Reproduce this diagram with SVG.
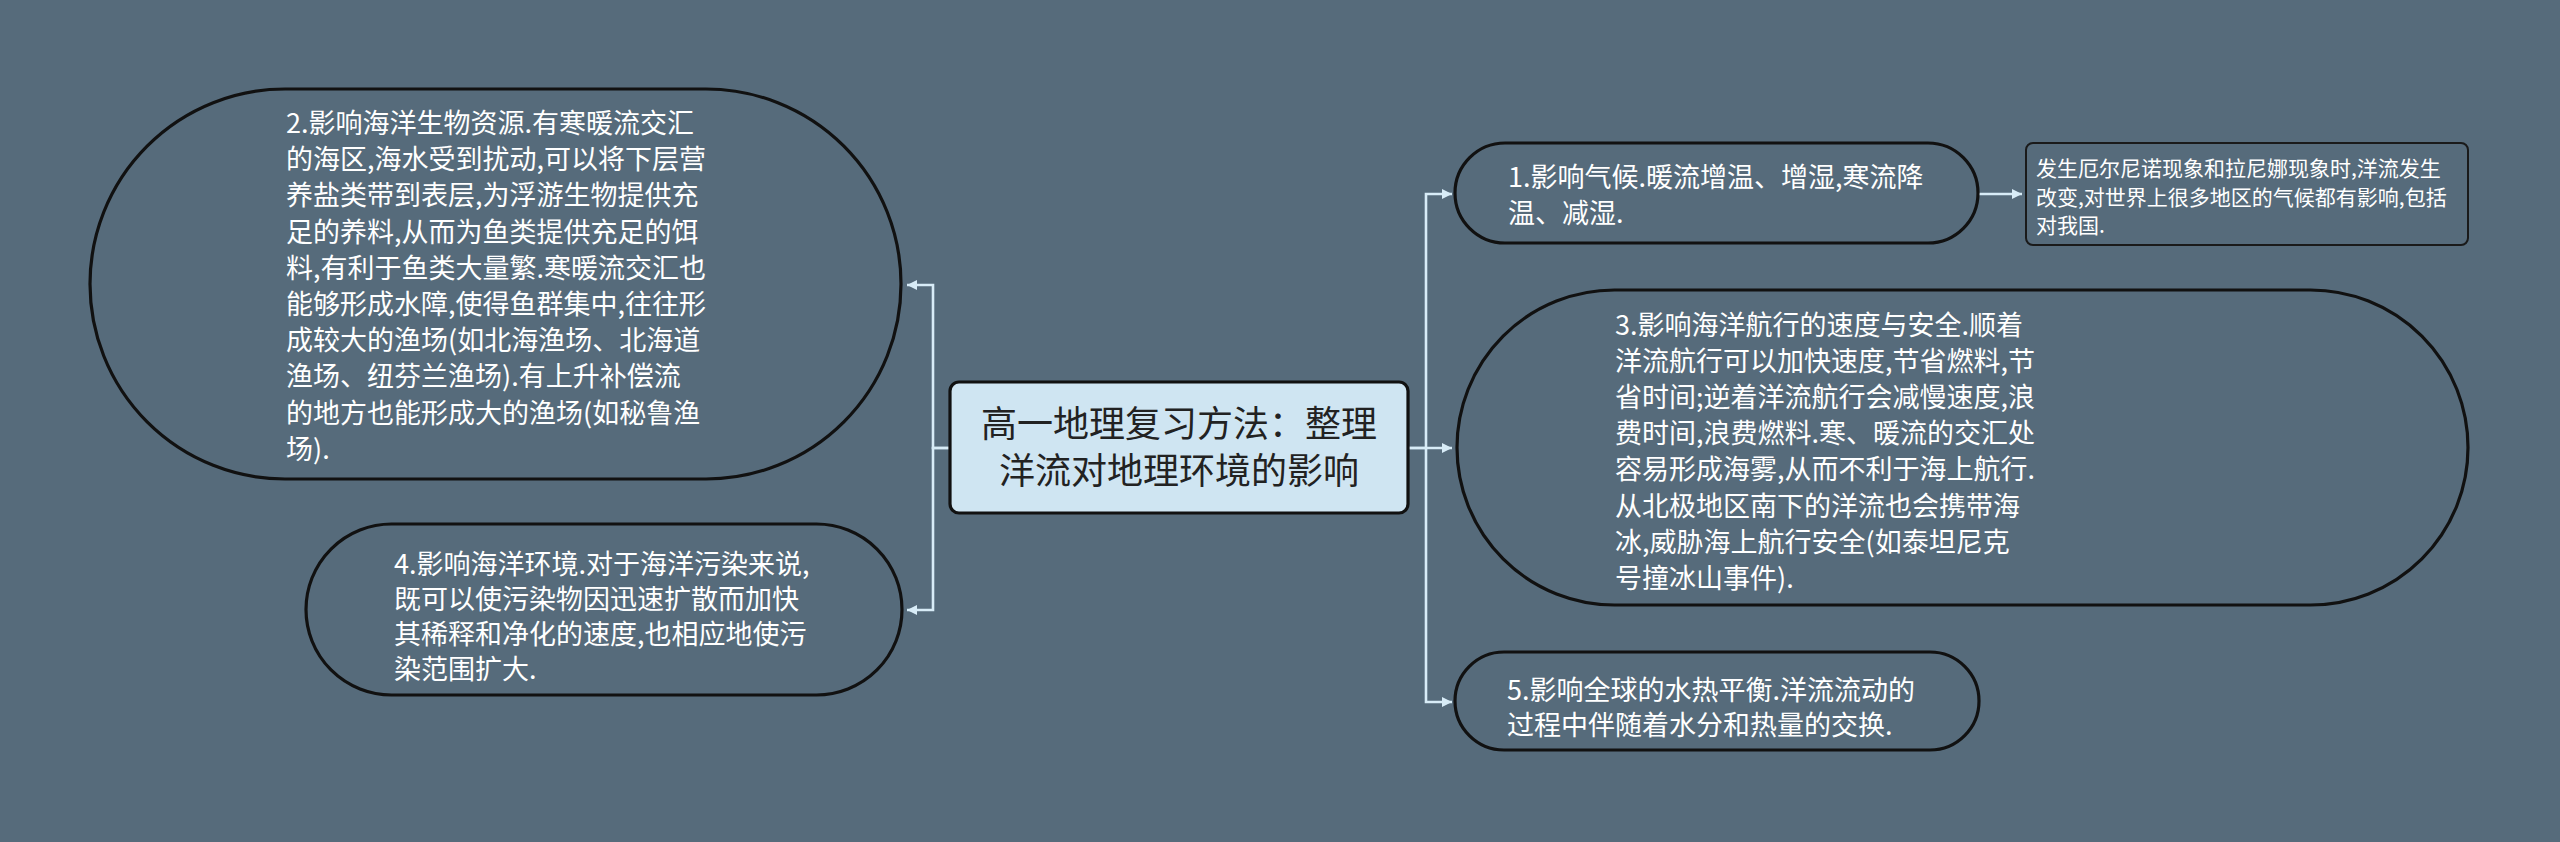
<svg xmlns="http://www.w3.org/2000/svg" width="2560" height="842" viewBox="0 0 2560 842">
<defs>
<style>
.bg{fill:#566b7b}
.pill{fill:#566b7b;stroke:#111;stroke-width:3.2}
.note{fill:#566b7b;stroke:#1a1a1a;stroke-width:2}
.root{fill:#cfe5f2;stroke:#111;stroke-width:3.2}
.t{font-family:"Noto Sans CJK SC","Noto Sans",sans-serif;font-size:27px;fill:#ffffff}
.tn{font-family:"Noto Sans CJK SC","Noto Sans",sans-serif;font-size:21px;fill:#ffffff}
.tr{font-family:"Noto Sans CJK SC","Noto Sans",sans-serif;font-size:36px;fill:#222222;text-anchor:middle}
.c{fill:none;stroke:#d8ecf7;stroke-width:2.6}
</style>
<marker id="ah" markerUnits="userSpaceOnUse" markerWidth="12" markerHeight="12" viewBox="0 0 12 12" refX="11" refY="6" orient="auto">
<path d="M1,1 L11,6 L1,11 Z" fill="#d8ecf7"/>
</marker>
</defs>
<rect class="bg" x="0" y="0" width="2560" height="842"/>
<g id="connectors">
<path class="c" d="M950,448 H933 V285 H907" marker-end="url(#ah)"/>
<path class="c" d="M950,448 H933 V610 H907" marker-end="url(#ah)"/>
<path class="c" d="M1408,448 H1426 V194 H1452" marker-end="url(#ah)"/>
<path class="c" d="M1408,448 H1452" marker-end="url(#ah)"/>
<path class="c" d="M1426,448 V702 H1452" marker-end="url(#ah)"/>
<path class="c" d="M1978,194 H2022" marker-end="url(#ah)"/>
</g>
<g id="root">
<rect class="root" x="950" y="382" width="458" height="131" rx="9"/>
<text class="tr" x="1179" y="437">高一地理复习方法：整理</text>
<text class="tr" x="1179" y="484">洋流对地理环境的影响</text>
</g>
<g id="node2">
<rect class="pill" x="90" y="89" width="811" height="390" rx="195"/>
<text class="t" x="286"><tspan x="286" y="133">2.影响海洋生物资源.有寒暖流交汇</tspan><tspan x="286" y="169.2">的海区,海水受到扰动,可以将下层营</tspan><tspan x="286" y="205.4">养盐类带到表层,为浮游生物提供充</tspan><tspan x="286" y="241.6">足的养料,从而为鱼类提供充足的饵</tspan><tspan x="286" y="277.8">料,有利于鱼类大量繁.寒暖流交汇也</tspan><tspan x="286" y="314">能够形成水障,使得鱼群集中,往往形</tspan><tspan x="286" y="350.2">成较大的渔场(如北海渔场、北海道</tspan><tspan x="286" y="386.4">渔场、纽芬兰渔场).有上升补偿流</tspan><tspan x="286" y="422.6">的地方也能形成大的渔场(如秘鲁渔</tspan><tspan x="286" y="458.8">场).</tspan></text>
</g>
<g id="node4">
<rect class="pill" x="306" y="524" width="596" height="171" rx="85.5"/>
<text class="t"><tspan x="394" y="574">4.影响海洋环境.对于海洋污染来说,</tspan><tspan x="394" y="609">既可以使污染物因迅速扩散而加快</tspan><tspan x="394" y="644">其稀释和净化的速度,也相应地使污</tspan><tspan x="394" y="679">染范围扩大.</tspan></text>
</g>
<g id="node1">
<rect class="pill" x="1455" y="143" width="523" height="100" rx="50"/>
<text class="t"><tspan x="1508" y="187">1.影响气候.暖流增温、增湿,寒流降</tspan><tspan x="1508" y="223">温、减湿.</tspan></text>
</g>
<g id="note1">
<rect class="note" x="2026" y="143" width="442" height="102" rx="7"/>
<text class="tn"><tspan x="2036" y="176">发生厄尔尼诺现象和拉尼娜现象时,洋流发生</tspan><tspan x="2036" y="204.5">改变,对世界上很多地区的气候都有影响,包括</tspan><tspan x="2036" y="233">对我国.</tspan></text>
</g>
<g id="node3">
<rect class="pill" x="1457" y="290" width="1011" height="315" rx="157.5"/>
<text class="t"><tspan x="1615" y="335">3.影响海洋航行的速度与安全.顺着</tspan><tspan x="1615" y="371.1">洋流航行可以加快速度,节省燃料,节</tspan><tspan x="1615" y="407.2">省时间;逆着洋流航行会减慢速度,浪</tspan><tspan x="1615" y="443.3">费时间,浪费燃料.寒、暖流的交汇处</tspan><tspan x="1615" y="479.4">容易形成海雾,从而不利于海上航行.</tspan><tspan x="1615" y="515.5">从北极地区南下的洋流也会携带海</tspan><tspan x="1615" y="551.6">冰,威胁海上航行安全(如泰坦尼克</tspan><tspan x="1615" y="587.7">号撞冰山事件).</tspan></text>
</g>
<g id="node5">
<rect class="pill" x="1455" y="652" width="524" height="98" rx="49"/>
<text class="t"><tspan x="1507" y="700">5.影响全球的水热平衡.洋流流动的</tspan><tspan x="1507" y="735">过程中伴随着水分和热量的交换.</tspan></text>
</g>
</svg>
